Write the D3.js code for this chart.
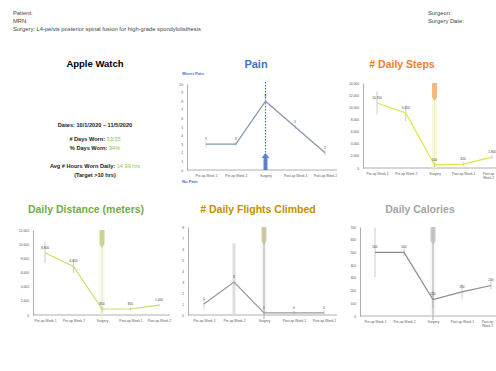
<!DOCTYPE html>
<html><head><meta charset="utf-8">
<script src="https://cdn.jsdelivr.net/npm/d3@7"></script>
<style>body{margin:0;background:#fff}svg{display:block}text{font-family:"Liberation Sans",Arial,sans-serif}</style>
</head><body>
<script>
const categories = ["Pre-op Week 1","Pre-op Week 2","Surgery","Post-op Week 1","Post-op Week 2"];
const painValues = [3, 3, 8, 5, 2];
const painErr = [0.3, 0.2, 0.3, 0.2, 0.3];
const painTicks = [0,1,2,3,4,5,6,7,8,9,10];
const stepsValues = [10700, 9050, 500, 650, 1800];
const stepsErr = [1900, 1300, 350, 300, 300];
const stepsTicks = [0,2000,4000,6000,8000,10000,12000,14000];
const distValues = [8800, 6850, 850, 850, 1400];
const distErr = [1500, 900, 350, 200, 200];
const distTicks = [0,2000,4000,6000,8000,10000,12000];
const flightsValues = [1, 3, 0.2, 0.2, 0.2];
const flightsErr = [0.5, 3.5, 0.2, 0.2, 0.2];
const flightsTicks = [0,1,2,3,4,5,6,7,8];
const calValues = [500, 500, 130, 190, 240];
const calErr = [195, 30, 70, 60, 30];
const calTicks = [0,100,200,300,400,500,600,700];

const W = 496, H = 371;
const svg = d3.select("body").append("svg").attr("width", W).attr("height", H);
svg.append("rect").attr("width", W).attr("height", H).attr("fill", "#fff");

// header
const hdr = svg.append("g").attr("font-size", 5.8).attr("fill", "#444");
hdr.append("text").attr("x", 13).attr("y", 15).text("Patient:");
hdr.append("text").attr("x", 13).attr("y", 23).text("MRN:");
hdr.append("text").attr("x", 13).attr("y", 31).text("Surgery: L4-pelvis posterior spinal fusion for high-grade spondylolisthesis");
hdr.append("text").attr("x", 428).attr("y", 15).text("Surgeon:");
hdr.append("text").attr("x", 428).attr("y", 23).text("Surgery Date:");

// Apple watch panel
const aw = svg.append("g").attr("text-anchor", "middle");
aw.append("text").attr("x", 95).attr("y", 67).attr("font-size", 9.5).attr("font-weight", "bold").text("Apple Watch");
const info = [
  {y: 127, a: "Dates: 10/1/2020 \u2013 11/5/2020", b: ""},
  {y: 141, a: "# Days Worn: ", b: "33/35"},
  {y: 150, a: "% Days Worn: ", b: "94%"},
  {y: 168, a: "Avg # Hours Worn Daily: ", b: "14.99 hrs"},
  {y: 177, a: "(Target >10 hrs)", b: ""}
];
info.forEach(d => {
  const t = aw.append("text").attr("x", 95).attr("y", d.y).attr("font-size", 5.6).attr("font-weight", "bold").attr("fill", "#222");
  t.append("tspan").text(d.a);
  if (d.b) t.append("tspan").attr("fill", "#8DC63F").attr("font-weight", "normal").text(d.b);
});

function panel(o) {
  const g = svg.append("g");
  g.append("text").attr("x", o.titleX).attr("y", o.titleY).attr("text-anchor", "middle")
    .attr("font-size", o.titleSize || 10.5).attr("font-weight", "bold").attr("fill", o.titleColor).text(o.title);
  const x = d3.scalePoint().domain(categories).range([o.x0, o.x1]);
  const y = d3.scaleLinear().domain([0, d3.max(o.ticks)]).range([o.yBottom, o.yTop]);
  // y axis
  const ya = g.append("g").attr("transform", `translate(${o.axisX},0)`)
    .call(d3.axisLeft(y).tickValues(o.ticks).tickSize(0).tickPadding(4).tickFormat(o.fmt || d3.format(",")));
  ya.select(".domain").attr("stroke", "#999").attr("stroke-width", 0.8);
  ya.selectAll("text").attr("font-size", 3.3).attr("fill", "#555").attr("font-family", "Liberation Sans, Arial");
  // x axis
  const xa = g.append("g").attr("transform", `translate(0,${o.yBottom})`)
    .call(d3.axisBottom(x).tickSize(0).tickPadding(5));
  xa.select(".domain").attr("d", `M${o.axisX},0H${o.axisEnd}`).attr("stroke", "#999").attr("stroke-width", 0.8);
  xa.selectAll("text").attr("font-size", 3.3).attr("fill", "#555").attr("font-family", "Liberation Sans, Arial");
  if (o.wrapLast) {
    const t = xa.selectAll(".tick").filter((d, i) => i === categories.length - 1).select("text");
    const words = t.text().split(" ");
    t.text(null).attr("dy", null);
    t.append("tspan").attr("x", -4).attr("dy", "0.71em").text(words[0]);
    t.append("tspan").attr("x", -4).attr("dy", "1.1em").text(words.slice(1).join(" "));
  }
  // surgery marker
  const sx = x("Surgery");
  if (o.surgery === "dotted") {
    g.append("line").attr("x1", sx).attr("x2", sx).attr("y1", o.yTop - 2).attr("y2", o.yBottom)
      .attr("stroke", o.accent).attr("stroke-width", 1.2).attr("stroke-dasharray", "1.5,1.5");
    g.append("path").attr("d", `M${sx-2},${o.yBottom}V${o.yBottom-12}H${sx-4}L${sx},${o.yBottom-17}L${sx+4},${o.yBottom-12}H${sx+2}V${o.yBottom}Z`)
      .attr("fill", o.accent).attr("opacity", 0.85);
  } else {
    g.append("rect").attr("x", sx - 2.5).attr("y", o.yTop).attr("width", 5).attr("height", o.yBottom - o.yTop)
      .attr("fill", o.band).attr("opacity", 0.6);
    g.append("line").attr("x1", sx).attr("x2", sx).attr("y1", o.yTop).attr("y2", o.yBottom + 4)
      .attr("stroke", o.bandLine).attr("stroke-width", 0.8);
    g.append("path").attr("d", `M${sx-2.5},${o.yTop}H${sx+2.5}V${o.yTop+14}L${sx},${o.yTop+18}L${sx-2.5},${o.yTop+14}Z`)
      .attr("fill", o.accent).attr("opacity", 0.75);
  }
  // error bars
  const data = categories.map((c, i) => ({c, v: o.values[i], e: o.err[i]}));
  g.selectAll(".eb").data(data).join("line")
    .attr("x1", d => x(d.c)).attr("x2", d => x(d.c))
    .attr("y1", d => y(Math.max(0, d.v - d.e))).attr("y2", d => y(d.v + d.e))
    .attr("stroke", (d, i) => (o.wideErr === i ? "#ddd" : "#aaa"))
    .attr("stroke-width", (d, i) => (o.wideErr === i ? 3 : 0.6));
  // line
  g.append("path").datum(data)
    .attr("d", d3.line().x(d => x(d.c)).y(d => y(d.v)))
    .attr("fill", "none").attr("stroke", o.lineColor).attr("stroke-width", 1.2);
  // labels
  g.selectAll(".lbl").data(data).join("text")
    .attr("x", d => x(d.c)).attr("y", d => y(d.v) - 4).attr("text-anchor", "middle")
    .attr("font-size", 3.2).attr("fill", "#444").text(d => (o.lfmt || d3.format(","))(d.v));
  return {g, x, y};
}

const pain = panel({title: "Pain", titleX: 256, titleY: 68, titleColor: "#4472C4", titleSize: 11,
  x0: 206, x1: 325, axisX: 187, axisEnd: 337, yBottom: 170, yTop: 84, ticks: painTicks,
  values: painValues, err: painErr, lineColor: "#8496B0", accent: "#4472C4", surgery: "dotted",
  fmt: d3.format("d"), lfmt: d3.format("d")});
pain.g.append("text").attr("x", 182).attr("y", 75).attr("font-size", 4.2).attr("font-weight", "bold").attr("fill", "#4472C4").text("Worst Pain");
pain.g.append("text").attr("x", 182).attr("y", 183).attr("font-size", 4.2).attr("font-weight", "bold").attr("fill", "#4472C4").text("No Pain");

panel({title: "# Daily Steps", titleX: 402, titleY: 68, titleColor: "#ED7D31",
  x0: 377, x1: 492, axisX: 363, axisEnd: 500, yBottom: 168, yTop: 83, ticks: stepsTicks,
  values: stepsValues, err: stepsErr, lineColor: "#DDE83A", accent: "#F4A460", band: "#F2F5D0", bandLine: "#E8EEB0", wrapLast: true});

panel({title: "Daily Distance (meters)", titleX: 86, titleY: 213, titleColor: "#70AD47",
  x0: 45, x1: 159, axisX: 33, axisEnd: 170, yBottom: 315, yTop: 230, ticks: distTicks,
  values: distValues, err: distErr, lineColor: "#CCD96A", accent: "#B9CC7A", band: "#EEF3DC", bandLine: "#DDE6BC"});

panel({title: "# Daily Flights Climbed", titleX: 258, titleY: 213, titleColor: "#BF9000",
  x0: 204, x1: 324, axisX: 188, axisEnd: 337, yBottom: 315, yTop: 227, ticks: flightsTicks,
  values: flightsValues, err: flightsErr, lineColor: "#9A9A9A", accent: "#C9BC90", band: "#EEEEEE", bandLine: "#999",
  fmt: d3.format("d"), lfmt: d3.format(".0f"), wideErr: 1});

panel({title: "Daily Calories", titleX: 420, titleY: 213, titleColor: "#A5A5A5",
  x0: 375, x1: 491, axisX: 360, axisEnd: 500, yBottom: 316, yTop: 227, ticks: calTicks,
  values: calValues, err: calErr, lineColor: "#8C8C8C", accent: "#BBBBBB", band: "#F0F0F0", bandLine: "#999",
  fmt: d3.format("d"), wrapLast: true});
</script>
</body></html>
